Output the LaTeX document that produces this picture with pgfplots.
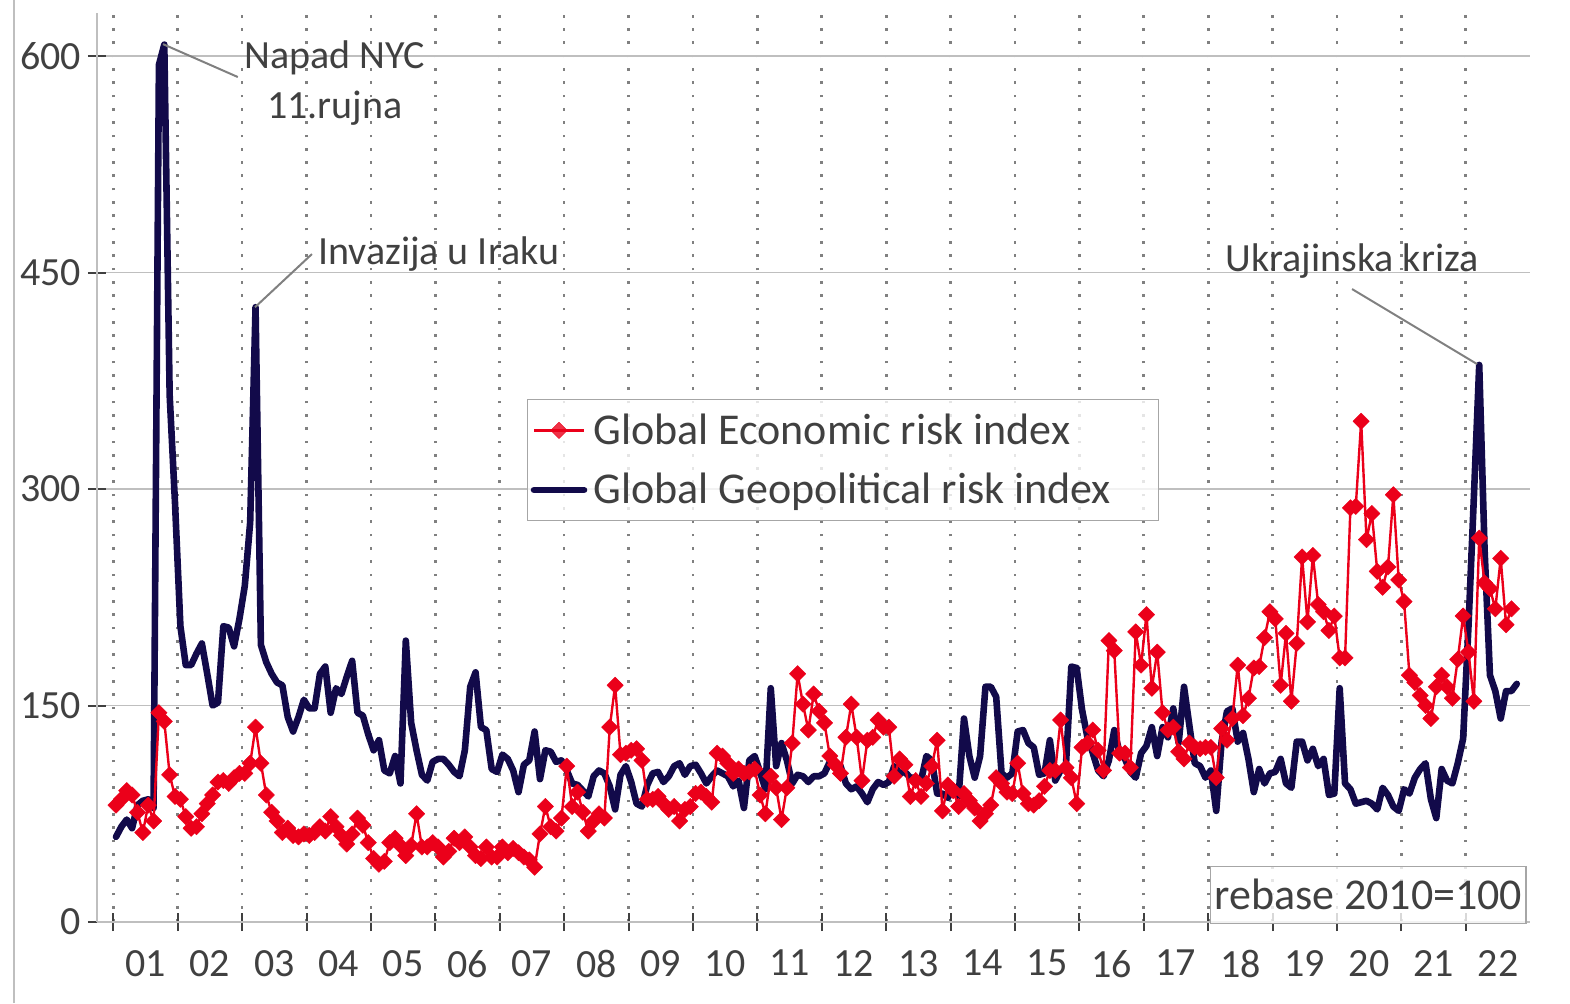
\documentclass[border=0pt]{standalone}
\usepackage{fontspec}
\setmainfont{Carlito}
\usepackage{pgfplots}
\pgfplotsset{compat=1.18}
\definecolor{navy}{RGB}{18,10,74}
\definecolor{ered}{RGB}{235,0,26}
\definecolor{txt}{RGB}{64,64,64}
\definecolor{gridc}{RGB}{191,191,191}
\definecolor{dotc}{RGB}{128,128,128}
\definecolor{annc}{RGB}{128,128,128}
\begin{document}
\begin{tikzpicture}
\useasboundingbox (-48.5pt,-40.5pt) rectangle (736.5pt,461pt);
\draw[gridc, line width=0.75pt] (-41.5pt,-40.5pt) -- (-41.5pt,461pt);
\begin{axis}[
  at={(0pt,0pt)}, anchor=south west,
  scale only axis, width=716.6pt, height=454.6pt,
  xmin=-3.04, xmax=264, ymin=0, ymax=630,
  clip=false,
  axis x line*=bottom, axis y line*=left,
  axis line style={gridc, line width=1pt},
  tick align=center, major tick length=9pt,
  tick style={txt, line width=1pt},
  ytick={0,150,300,450,600},
  xtick={0,12,...,252}, xticklabels={},
  extra x ticks={6,18,...,258},
  extra x tick labels={01,02,03,04,05,06,07,08,09,10,11,12,13,14,15,16,17,18,19,20,21,22},
  extra x tick style={grid=none, tick style={draw=none}, xticklabel style={yshift=-6pt}},
  xmajorgrids, ymajorgrids,
  x grid style={dotc, line width=1.35pt, dash pattern=on 1.35pt off 5.3pt},
  y grid style={gridc, line width=0.75pt},
  ticklabel style={font=\fontsize{20}{24}\selectfont, text=txt},
  /pgf/number format/assume math mode=true,
  reverse legend,
  legend style={at={(0.300,0.5754)}, anchor=north west, draw=gray!70, line width=0.75pt,
    fill=white, fill opacity=0.8, text opacity=1,
    font=\fontsize{22}{26}\selectfont, text=txt,
    inner xsep=1.5pt, inner ysep=6pt, row sep=11pt, column sep=2pt,
    nodes={inner sep=1pt}},
  legend cell align=left,
  legend image code/.code={\draw[mark repeat=2,mark phase=2,#1] plot coordinates {(0pt,0pt) (12.5pt,0pt) (25pt,0pt)};},
]
\addplot[navy, line width=3.3pt, line join=round, line cap=round] table[row sep=\\, x expr=\coordindex+0.5, y=v] {
v\\
59\\66\\71\\65\\81\\84\\85\\79\\594\\608\\365\\290\\
205\\178\\178\\186\\193\\172\\150\\152\\205\\204\\191\\210\\
233\\277\\426\\192\\180\\172\\166\\164\\142\\132\\142\\154\\
148\\148\\172\\177\\145\\162\\158\\170\\181\\145\\143\\130\\
119\\126\\105\\103\\115\\96\\195\\138\\119\\102\\98\\111\\
113\\113\\109\\104\\101\\119\\163\\173\\135\\133\\106\\104\\
116\\113\\105\\90\\109\\112\\132\\99\\119\\118\\111\\112\\
105\\96\\95\\91\\87\\101\\105\\103\\94\\78\\102\\108\\
97\\82\\80\\95\\103\\104\\97\\101\\108\\110\\102\\108\\
109\\103\\96\\101\\105\\103\\101\\94\\98\\79\\112\\115\\
104\\92\\162\\108\\124\\112\\96\\102\\101\\97\\101\\101\\
103\\111\\110\\108\\96\\92\\94\\89\\83\\92\\97\\95\\
97\\108\\103\\104\\100\\100\\98\\115\\112\\89\\89\\86\\
94\\87\\141\\115\\100\\115\\163\\163\\156\\103\\100\\103\\
132\\133\\124\\121\\102\\103\\126\\98\\105\\109\\177\\176\\
147\\128\\117\\105\\101\\112\\133\\117\\113\\104\\100\\117\\
122\\135\\115\\135\\128\\148\\124\\163\\136\\110\\108\\100\\
105\\77\\125\\146\\148\\125\\131\\113\\90\\106\\96\\103\\
104\\113\\96\\93\\125\\125\\112\\120\\108\\113\\88\\89\\
162\\96\\92\\82\\83\\84\\82\\78\\93\\88\\80\\77\\
92\\89\\100\\106\\110\\85\\72\\106\\98\\96\\110\\127\\
205\\294\\386\\258\\171\\160\\141\\160\\160\\165\\
};
\addlegendentry{\makebox[280pt][l]{Global Geopolitical risk index}}
\addplot[ered, line width=1.2pt, line join=round, mark=square*, mark size=2.9pt,
  mark options={rotate=45, solid, fill=ered, draw=ered, line width=0.2pt}] table[row sep=\\, x expr=\coordindex+0.5, y=v] {
v\\
81\\85\\91\\88\\76\\62\\81\\70\\145\\139\\102\\87\\
85\\73\\65\\66\\75\\82\\88\\97\\98\\96\\100\\103\\
103\\110\\135\\110\\88\\76\\70\\62\\65\\60\\59\\61\\
60\\62\\66\\63\\73\\66\\60\\54\\61\\72\\67\\55\\
44\\40\\42\\55\\58\\53\\46\\53\\75\\52\\52\\55\\
52\\45\\49\\58\\55\\59\\52\\46\\44\\52\\45\\45\\
52\\48\\51\\48\\45\\43\\38\\61\\80\\66\\63\\72\\
108\\80\\90\\76\\63\\70\\75\\72\\135\\164\\116\\117\\
119\\120\\112\\85\\85\\87\\82\\78\\80\\70\\78\\80\\
89\\90\\87\\83\\117\\115\\110\\103\\106\\103\\104\\106\\
88\\75\\101\\93\\71\\93\\124\\172\\151\\133\\158\\146\\
138\\115\\109\\103\\128\\151\\128\\98\\126\\128\\140\\135\\
135\\101\\113\\109\\87\\98\\87\\96\\108\\126\\77\\95\\
91\\80\\89\\84\\79\\70\\75\\81\\100\\96\\90\\89\\
110\\89\\82\\81\\84\\94\\105\\105\\140\\107\\100\\82\\
121\\124\\133\\119\\105\\195\\188\\117\\117\\107\\201\\178\\
213\\162\\187\\145\\133\\135\\118\\113\\124\\121\\120\\121\\
121\\100\\134\\126\\141\\178\\143\\155\\176\\177\\197\\215\\
210\\164\\200\\153\\193\\253\\208\\254\\220\\215\\202\\212\\
183\\183\\287\\288\\347\\265\\283\\243\\232\\246\\296\\237\\
222\\171\\166\\157\\150\\141\\163\\171\\163\\155\\182\\212\\
187\\153\\266\\235\\231\\217\\252\\206\\217\\
};
\addlegendentry{Global Economic risk index}
\draw[annc, line width=1pt] (axis cs:9.26,608.3) -- (axis cs:23.2,585.5);
\node[align=center, font=\fontsize{20}{25}\selectfont, text=txt, inner sep=0pt] at (axis cs:41.3,581.5) {Napad NYC\\11.rujna};
\draw[annc, line width=1pt] (axis cs:26.4,426) -- (axis cs:37.0,462.8);
\node[anchor=west, font=\fontsize{20}{24}\selectfont, text=txt, inner sep=0pt] at (axis cs:38.1,462.8) {Invazija u Iraku};
\draw[annc, line width=1pt] (axis cs:230.8,438.6) -- (axis cs:254.1,386.6);
\node[font=\fontsize{20}{24}\selectfont, text=txt, inner sep=0pt] at (axis cs:230.8,458) {Ukrajinska kriza};
\node[anchor=south east, draw=gray!70, line width=0.75pt, fill=white, fill opacity=0.8, text opacity=1,
  font=\fontsize{22}{26}\selectfont, text=txt, inner xsep=2pt, inner ysep=6.5pt] at (axis cs:263.4,-1.4) {rebase 2010=100};
\end{axis}
\end{tikzpicture}
\end{document}
